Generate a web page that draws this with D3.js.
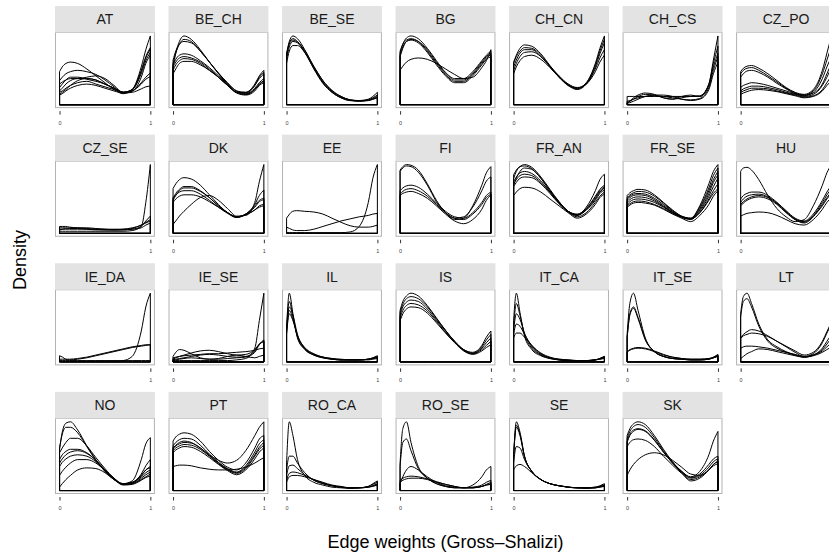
<!DOCTYPE html>
<html><head><meta charset="utf-8">
<script src="https://cdn.jsdelivr.net/npm/d3@7"></script>
<style>body{margin:0;background:#fff;overflow:hidden}svg{display:block;font-family:"Liberation Sans",Arial,sans-serif}</style>
</head><body><svg id="c" width="829" height="556"></svg>
<script>
// ---------- DATA ----------
const panelNames = ["AT","BE_CH","BE_SE","BG","CH_CN","CH_CS","CZ_PO",
  "CZ_SE","DK","EE","FI","FR_AN","FR_SE","HU",
  "IE_DA","IE_SE","IL","IS","IT_CA","IT_SE","LT",
  "NO","PT","RO_CA","RO_SE","SE","SK"];
// panels whose data start above 0 (no "0" tick)
const lateStartPanels = ["CZ_SE","EE","IE_DA"];
const xGridStd  = [0,0.03,0.07,0.12,0.2,0.3,0.4,0.5,0.6,0.7,0.8,0.9,0.95,1];
const xGridLate = [0.1,0.13,0.16,0.2,0.28,0.37,0.46,0.55,0.64,0.73,0.82,0.91,0.955,1];
const tickLabels = [0, 1];

// density estimates (relative units) at the grid points, one row per curve
const AT = [
 [48,55,60,62,60,52,42,32,22,16,22,55,80,100],
 [35,40,45,48,50,48,44,36,26,18,22,50,70,83],
 [25,30,36,40,40,37,34,30,24,18,22,48,68,81],
 [20,24,30,35,38,38,36,30,24,18,22,45,64,76],
 [30,33,36,38,38,40,42,38,28,18,20,40,60,72],
 [15,18,22,28,35,38,36,30,24,17,20,32,40,46],
 [18,20,24,28,32,34,30,26,22,18,20,30,37,41],
 [14,16,20,24,28,30,28,24,20,17,18,23,26,27]];
const BE_CH = [
 [55,75,92,100,95,80,62,45,30,18,18,30,42,50],
 [60,75,88,95,92,78,62,46,30,18,17,28,40,47],
 [65,78,88,92,90,78,62,46,32,20,18,28,38,45],
 [55,62,68,70,68,62,52,40,28,18,15,22,30,35],
 [50,58,64,67,66,60,50,40,28,17,14,20,28,32],
 [45,52,60,63,63,58,50,40,28,18,15,22,30,34],
 [58,66,72,74,72,64,54,42,30,20,16,24,32,38]];
const BE_SE = [
 [70,92,100,96,80,54,32,18,10,6,6,8,12,18],
 [75,90,96,92,77,52,31,18,10,6,5,7,10,14],
 [65,84,92,90,76,53,33,19,11,7,6,7,9,12],
 [72,88,94,91,79,56,35,20,12,7,6,6,8,10],
 [60,78,86,86,76,55,35,21,12,7,5,6,8,10]];
const BG = [
 [75,88,97,100,96,82,64,47,38,38,48,64,72,78],
 [70,82,92,95,92,80,62,46,36,36,46,62,70,75],
 [78,88,94,96,92,78,60,44,34,34,44,60,68,73],
 [50,56,62,66,68,66,60,52,44,38,40,54,64,80],
 [72,84,92,94,90,76,58,42,32,32,42,58,66,70]];
const CH_CN = [
 [55,65,75,80,80,70,55,40,28,24,32,60,82,100],
 [60,70,78,83,82,72,56,40,28,22,30,55,74,90],
 [50,60,70,76,77,70,56,42,30,24,30,52,68,80],
 [45,55,64,70,72,66,54,40,30,25,30,48,62,72],
 [62,72,82,87,85,74,57,41,29,23,31,58,78,95]];
const CH_CS = [
 [2,5,10,14,17,15,10,8,10,12,12,30,65,100],
 [12,12,12,12,12,12,12,12,12,12,13,30,60,85],
 [3,5,8,12,15,14,10,8,12,14,12,28,55,75],
 [5,6,8,10,12,13,12,10,8,7,9,25,50,70],
 [2,3,5,8,12,14,14,12,8,6,8,22,45,62]];
const CZ_PO = [
 [48,53,56,57,53,45,35,25,18,15,22,50,75,100],
 [45,50,53,54,50,42,33,24,17,14,20,45,65,85],
 [40,45,49,50,47,40,31,23,16,13,18,38,55,70],
 [25,28,30,32,31,28,24,20,16,14,17,30,45,60],
 [20,23,25,27,27,25,22,18,15,12,15,28,40,55],
 [18,20,22,24,24,23,20,17,14,11,13,22,32,42],
 [15,17,19,21,22,21,19,16,13,10,12,20,28,35]];
const CZ_SE = [
 [3,3,3,3,3,3,3,3,3,3,4,10,45,100],
 [8,8,8,7,7,6,5,5,5,5,6,10,18,25],
 [10,10,10,9,8,7,6,5,5,6,8,12,16,20],
 [5,6,7,8,8,8,7,6,5,5,7,12,15,18],
 [6,6,6,6,6,6,6,6,6,6,6,8,12,15]];
const DK = [
 [65,72,78,81,79,70,56,42,30,24,28,42,55,63],
 [50,58,64,68,68,62,52,40,30,23,28,40,48,51],
 [48,55,62,66,66,61,52,40,30,24,28,38,46,49],
 [45,50,54,56,56,53,46,38,30,24,27,34,40,42],
 [13,18,25,32,42,52,55,48,36,25,26,45,75,100],
 [52,56,60,62,62,57,48,38,29,23,27,34,38,40]];
const EE = [
 [22,28,32,33,32,31,28,22,16,11,9,9,10,12],
 [9,7,5,4,4,6,10,14,18,21,24,26,28,29],
 [1,1,1,1,1,1,1,1,1,2,10,45,80,100]];
const FI = [
 [92,97,100,99,92,72,48,30,20,22,40,70,88,97],
 [90,95,98,97,89,70,46,30,22,24,38,62,76,82],
 [62,66,69,70,67,57,44,32,24,22,30,45,55,60],
 [57,61,64,65,62,54,42,30,22,20,28,42,52,57],
 [55,58,60,61,58,51,40,28,18,14,20,35,48,56]];
const FR_AN = [
 [80,90,97,100,96,82,64,46,32,26,38,62,78,86],
 [85,92,97,98,94,80,62,45,32,27,36,54,64,70],
 [70,80,90,95,93,80,62,46,32,26,34,50,60,66],
 [72,78,84,86,84,74,60,44,32,27,34,48,58,63],
 [68,74,80,82,81,72,58,43,31,24,30,45,54,60],
 [55,60,65,67,66,60,50,40,30,22,28,42,52,57],
 [75,82,88,90,87,76,60,44,32,28,36,52,62,68]];
const FR_SE = [
 [55,59,62,64,63,56,45,34,25,22,40,72,90,100],
 [52,56,59,61,60,54,44,33,25,22,38,66,84,95],
 [50,54,57,58,57,51,42,32,24,21,36,62,78,90],
 [48,52,55,56,55,49,40,31,24,21,34,58,74,85],
 [45,49,52,53,52,47,39,30,23,20,32,54,68,80],
 [42,46,49,50,49,45,38,30,24,21,30,50,62,72],
 [40,43,46,47,46,42,36,29,24,21,30,48,58,65],
 [38,41,44,45,44,41,35,28,22,17,26,42,54,62]];
const HU = [
 [90,95,96,92,78,55,36,24,17,20,40,70,88,100],
 [50,55,58,60,60,55,45,33,22,18,28,48,60,70],
 [45,50,54,56,57,53,44,32,21,17,26,45,56,65],
 [42,46,50,53,55,52,43,31,20,15,24,42,52,60],
 [25,27,29,30,31,30,26,20,14,12,20,35,45,52],
 [40,44,48,51,53,50,42,30,20,16,25,40,50,58]];
const IE_DA = [
 [1,1,1,1,1,1,1,1,1,2,8,45,80,100],
 [9,7,4,3,4,6,9,12,15,18,21,23,24,25],
 [4,4,4,4,5,7,10,13,16,19,22,24,25,25],
 [2,2,2,2,2,2,2,2,2,2,2,2,2,2]];
const IE_SE = [
 [2,2,2,2,2,2,2,2,2,3,5,20,60,100],
 [8,14,18,17,12,6,4,5,8,10,8,6,8,10],
 [4,6,8,10,13,16,17,15,12,10,11,18,26,30],
 [6,7,8,9,10,11,12,12,13,14,15,17,19,20],
 [3,4,5,6,8,10,11,10,8,7,8,16,26,32],
 [2,3,4,5,6,5,4,4,5,6,7,14,25,30]];
const IL = [
 [50,100,70,35,18,10,6,4,3,3,3,4,6,8],
 [45,80,68,40,20,11,7,4,3,3,3,4,5,6],
 [42,75,62,38,20,11,7,5,3,3,3,4,5,7],
 [40,70,60,38,21,12,7,5,4,3,3,3,4,5],
 [48,88,66,36,19,10,6,4,3,3,3,4,6,9]];
const IS = [
 [75,88,96,100,96,82,64,46,30,18,14,24,36,45],
 [72,84,92,95,92,80,63,46,30,18,13,22,32,40],
 [68,80,87,90,88,77,61,45,30,17,12,20,28,35],
 [64,75,82,85,83,74,59,43,29,17,12,18,24,30],
 [60,70,77,80,79,71,57,42,28,16,11,16,21,25]];
const IT_CA = [
 [60,100,72,38,18,9,5,3,2,2,2,3,5,8],
 [50,85,68,40,20,10,5,3,2,2,2,3,4,6],
 [45,70,62,42,22,11,6,3,2,2,2,3,5,7],
 [40,55,52,40,24,12,6,4,3,2,2,3,4,5],
 [35,42,42,36,24,13,7,4,3,2,2,3,5,8]];
const IT_SE = [
 [40,85,100,75,35,15,8,5,4,3,3,4,7,10],
 [35,70,80,65,33,15,8,5,4,3,3,4,6,9],
 [35,68,78,63,32,15,8,5,4,3,3,4,6,8],
 [15,18,20,21,20,16,11,7,5,4,4,5,7,11],
 [14,17,19,20,19,15,10,7,5,4,4,5,6,9]];
const LT = [
 [70,95,100,85,55,32,22,15,10,7,10,20,30,40],
 [65,88,92,80,52,30,20,14,10,7,10,18,26,35],
 [36,40,44,47,45,38,30,22,14,8,12,28,42,55],
 [34,38,40,42,41,37,30,23,16,10,14,30,44,58],
 [20,22,23,23,22,20,17,14,11,8,10,16,22,28],
 [5,8,12,15,19,18,15,12,9,7,9,14,18,22]];
const NO = [
 [60,85,98,100,88,65,45,28,16,10,12,22,30,35],
 [62,82,92,92,84,64,44,28,16,10,12,24,36,45],
 [55,62,70,76,76,65,48,32,18,10,14,45,68,77],
 [45,52,57,60,60,55,44,30,18,9,11,20,26,30],
 [35,41,46,50,52,50,42,29,17,9,10,18,23,27],
 [22,28,34,40,45,45,40,29,17,9,10,16,20,24],
 [5,10,16,22,30,33,32,26,16,8,9,15,19,21],
 [40,46,52,56,58,54,44,30,17,9,11,22,30,33]];
const PT = [
 [72,78,82,84,82,72,57,44,34,30,40,62,75,80],
 [65,70,74,76,75,66,53,41,32,27,36,56,68,74],
 [60,65,68,70,69,62,51,40,31,26,34,52,63,70],
 [58,62,65,67,66,60,50,39,30,25,32,50,60,66],
 [55,59,62,64,63,57,48,38,29,23,30,46,56,62],
 [35,36,37,37,36,33,31,30,30,31,34,40,44,48],
 [62,66,70,72,70,62,52,44,40,44,58,80,92,100]];
const RO_CA = [
 [40,100,80,45,22,12,8,5,4,3,4,6,10,14],
 [30,50,50,40,26,15,10,7,5,4,4,6,9,12],
 [22,36,37,32,23,15,10,7,5,4,4,5,7,10],
 [15,25,27,26,22,16,11,7,5,4,4,5,7,9],
 [12,20,22,22,20,16,12,8,6,4,4,5,6,8]];
const RO_SE = [
 [40,90,100,70,35,18,10,6,4,4,5,8,12,15],
 [35,70,75,58,32,18,10,6,4,4,8,20,30,35],
 [15,18,20,21,20,17,13,9,6,4,4,6,8,10],
 [12,15,17,18,18,16,12,9,6,4,4,6,8,9],
 [10,20,30,35,30,20,12,7,5,4,4,6,9,12]];
const SE = [
 [50,100,85,50,28,16,10,7,5,4,4,5,7,10],
 [50,95,82,50,28,16,10,7,5,4,4,4,6,8],
 [50,92,80,49,28,16,10,7,5,4,3,4,5,7],
 [40,64,62,45,28,16,10,7,5,4,4,5,6,8],
 [30,36,38,35,26,16,10,7,5,4,4,4,5,6]];
const SK = [
 [80,90,97,100,96,80,60,42,28,20,28,52,72,86],
 [76,86,93,96,92,77,58,41,28,19,24,38,46,50],
 [70,80,86,89,86,73,56,40,27,18,22,34,42,46],
 [64,70,74,75,73,64,50,37,25,16,20,30,38,42],
 [22,30,38,45,52,55,52,44,34,24,22,30,36,39],
 [72,82,88,90,87,74,56,40,26,14,18,30,38,43]];
const panelCurves = [AT,BE_CH,BE_SE,BG,CH_CN,CH_CS,CZ_PO,CZ_SE,DK,EE,FI,FR_AN,FR_SE,HU,
  IE_DA,IE_SE,IL,IS,IT_CA,IT_SE,LT,NO,PT,RO_CA,RO_SE,SE,SK];

const xTitle = "Edge weights (Gross\u2013Shalizi)";
const yTitle = "Density";

// ---------- LAYOUT ----------
const W = 829, H = 556;
const nCol = 7, nRow = 4;
const svg = d3.select("#c");
const colBand = d3.scaleBand().domain(d3.range(nCol)).range([55, 836]).paddingInner(0.12);
const rowBand = d3.scaleBand().domain(d3.range(nRow)).range([6, 494]).paddingInner(0.206);
const stripH = 26.5;

panelNames.forEach((name, i) => {
  const c = i % nCol, r = Math.floor(i / nCol);
  const x0 = colBand(c), w = colBand.bandwidth();
  const top = rowBand(r), bottom = top + rowBand.bandwidth();
  const pTop = top + stripH;
  const late = lateStartPanels.includes(name);
  const grid = late ? xGridLate : xGridStd;
  const xmin = grid[0], xmax = grid[grid.length - 1], span = xmax - xmin;
  const x = d3.scaleLinear().domain([xmin - 0.05 * span, xmax + 0.05 * span]).range([x0, x0 + w]);
  const curves = panelCurves[i];
  const ymax = d3.max(curves, cv => d3.max(cv));
  const y = d3.scaleLinear().domain([-0.05 * ymax, 1.05 * ymax]).range([bottom, pTop]);

  const g = svg.append("g");
  g.append("rect").attr("x", x0 + 0.5).attr("y", pTop).attr("width", w - 1).attr("height", bottom - pTop - 0.5)
    .attr("fill", "#fff").attr("stroke", "#b3b3b3").attr("stroke-width", 1);
  g.append("rect").attr("x", x0).attr("y", top).attr("width", w).attr("height", stripH).attr("fill", "#e3e3e3");
  g.append("text").attr("x", x0 + w / 2).attr("y", top + stripH / 2).attr("dy", "0.36em")
    .attr("text-anchor", "middle").attr("font-size", 14).attr("fill", "#1a1a1a").text(name);

  const area = d3.area().x((d, k) => x(grid[k])).y0(y(0)).y1(d => y(d)).curve(d3.curveMonotoneX);
  g.append("g").selectAll("path").data(curves).join("path")
    .attr("d", area).attr("fill", "none").attr("stroke", "#000").attr("stroke-width", 1);

  // only ticks inside the panel's range and inside the visible picture
  const ticks = tickLabels.filter(v => v >= x.domain()[0] && v <= x.domain()[1] && x(v) < W - 1);
  const ax = d3.axisBottom(x).tickValues(ticks)
    .tickFormat(d3.format("d")).tickSize(3.5).tickPadding(6);
  const axg = g.append("g").attr("transform", `translate(0,${bottom + 3})`).call(ax);
  axg.select(".domain").remove();
  axg.selectAll(".tick line").attr("stroke", "#333").attr("stroke-width", 1);
  axg.selectAll(".tick text").attr("font-size", 5.5).attr("fill", "#444")
    .attr("font-family", "Liberation Sans, Arial, sans-serif");
});

svg.append("text").attr("x", 445.5).attr("y", 548).attr("text-anchor", "middle")
  .attr("font-size", 18).attr("fill", "#000").text(xTitle);
svg.append("text").attr("transform", "translate(26,260) rotate(-90)").attr("text-anchor", "middle")
  .attr("font-size", 18).attr("fill", "#000").text(yTitle);
</script></body></html>
